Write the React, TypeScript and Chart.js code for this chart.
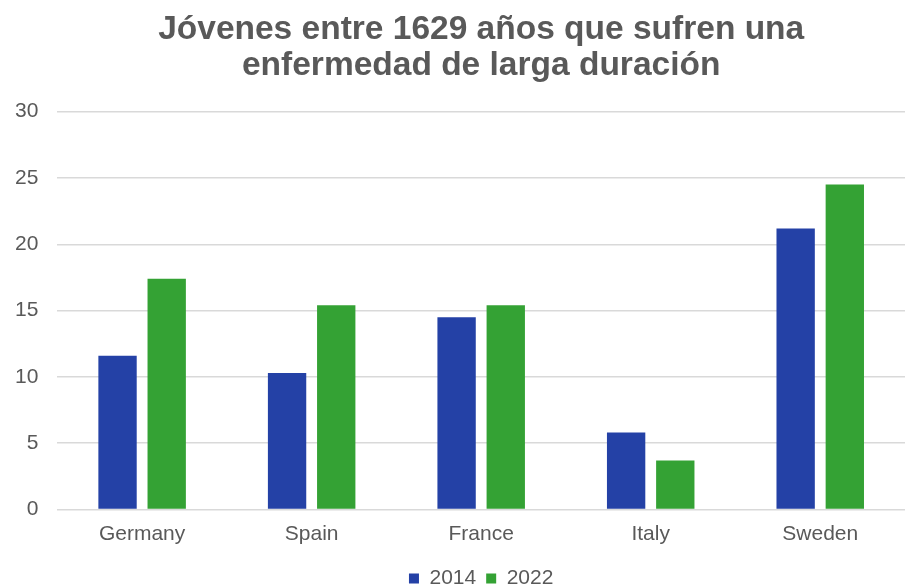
import React, { useEffect, useRef } from "react";
import { Chart, registerables } from "chart.js";

Chart.register(...registerables);

const categories = ["Germany", "Spain", "France", "Italy", "Sweden"];
const values2014 = [11.6, 10.3, 14.5, 5.8, 21.2];
const values2022 = [17.4, 15.4, 15.4, 3.7, 24.5];
const seriesLabels = ["2014", "2022"];
const titleLines = ["Jóvenes entre 1629 años que sufren una", "enfermedad de larga duración"];

export default function App() {
  const ref = useRef<HTMLCanvasElement>(null);
  useEffect(() => {
    const ctx = ref.current!;
    const chart = new Chart(ctx, {
      type: "bar",
      data: {
        labels: categories,
        datasets: [
          {
            label: seriesLabels[0],
            data: values2014,
            backgroundColor: "#2441a6",
            categoryPercentage: 0.58,
            barPercentage: 0.78,
          },
          {
            label: seriesLabels[1],
            data: values2022,
            backgroundColor: "#34a234",
            categoryPercentage: 0.58,
            barPercentage: 0.78,
          },
        ],
      },
      options: {
        animation: false,
        responsive: true,
        maintainAspectRatio: false,
        layout: { padding: { left: -4, right: 7, top: 12, bottom: -12 } },
        plugins: {
          title: {
            display: true,
            text: titleLines,
            fullSize: false,
            color: "#595959",
            font: { family: "Liberation Sans, Arial, sans-serif", size: 33.5, weight: "bold", lineHeight: 1.07 },
            padding: { top: 0, bottom: 28 },
          },
          legend: {
            position: "bottom",
            fullSize: false,
            labels: {
              color: "#595959",
              font: { family: "Liberation Sans, Arial, sans-serif", size: 21 },
              boxWidth: 10,
              boxHeight: 10,
              padding: 10,
            },
          },
          tooltip: { enabled: false },
        },
        scales: {
          x: {
            grid: { display: false },
            border: { display: false },
            ticks: {
              color: "#595959",
              font: { family: "Liberation Sans, Arial, sans-serif", size: 21 },
              padding: 4,
            },
            afterFit: (scale: any) => {
              scale.height = 48.5;
            },
          },
          y: {
            min: 0,
            max: 30,
            grid: { color: "#d9d9d9", lineWidth: 1.5, drawTicks: false },
            border: { display: false },
            ticks: {
              stepSize: 5,
              color: "#595959",
              font: { family: "Liberation Sans, Arial, sans-serif", size: 21 },
              padding: 19,
            },
          },
        },
      },
    });
    return () => chart.destroy();
  }, []);
  return (
    <div style={{ position: "fixed", left: 0, top: 0, width: 912, height: 587, background: "#fff" }}>
      <canvas ref={ref} />
    </div>
  );
}
